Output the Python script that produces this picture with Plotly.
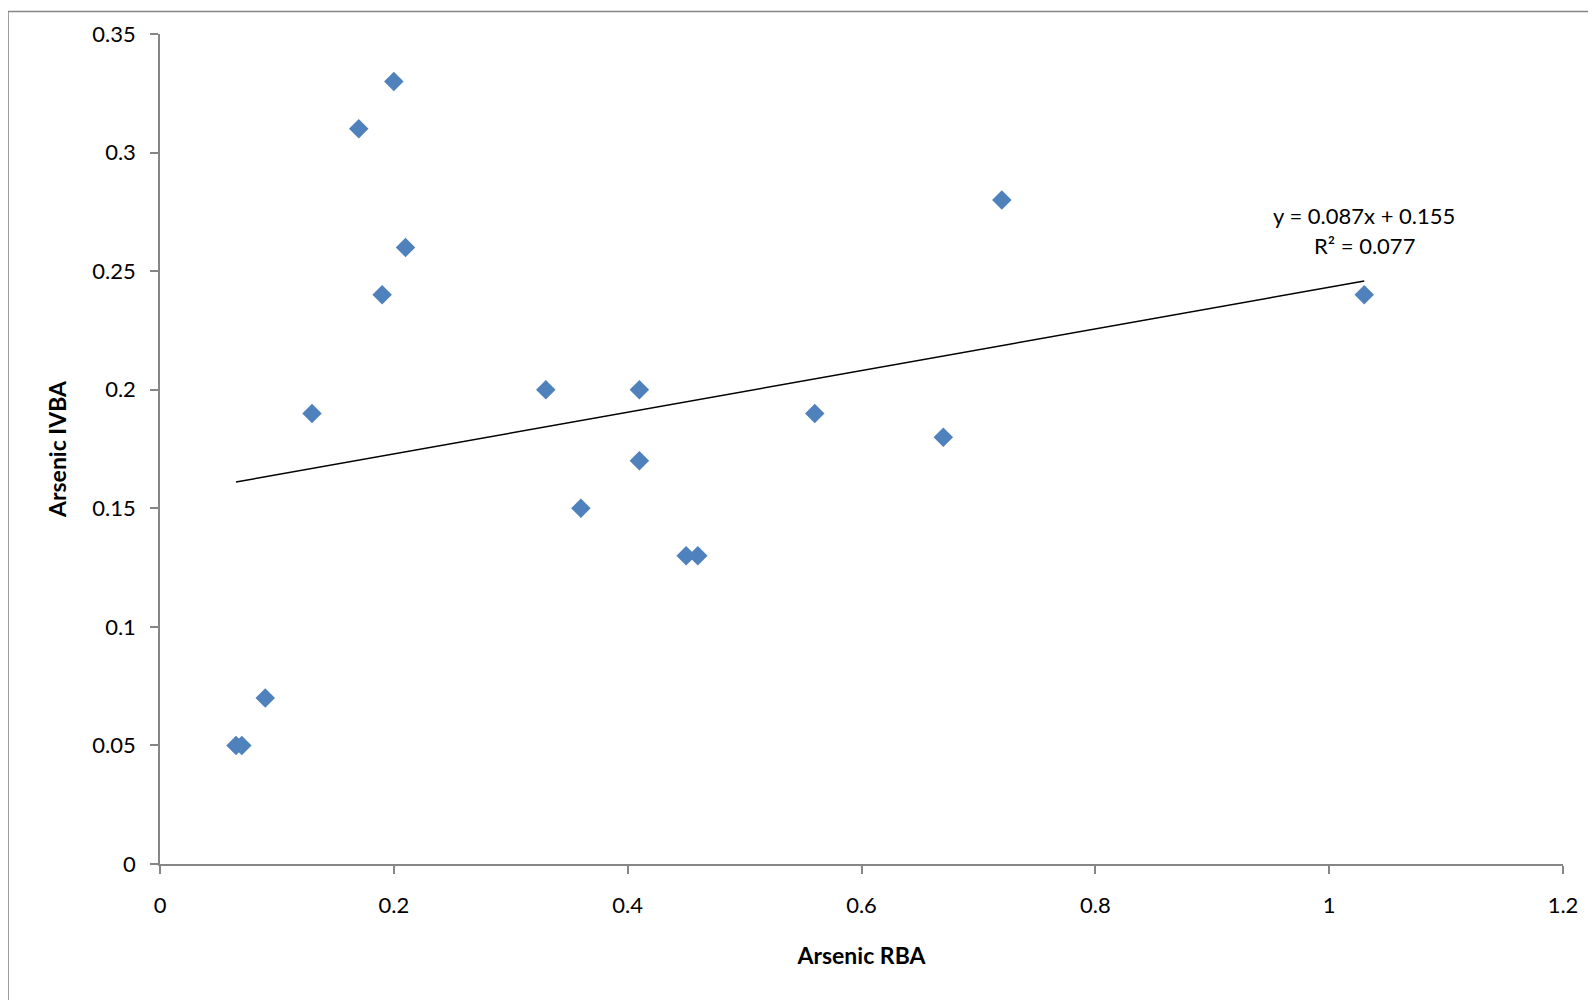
import numpy as np
import plotly.graph_objects as go

# Data
rba = [0.065, 0.07, 0.09, 0.13, 0.17, 0.19, 0.20, 0.21, 0.33, 0.36, 0.41, 0.41, 0.45, 0.46, 0.56, 0.67, 0.72, 1.03]
ivba = [0.05, 0.05, 0.07, 0.19, 0.31, 0.24, 0.33, 0.26, 0.20, 0.15, 0.20, 0.17, 0.13, 0.13, 0.19, 0.18, 0.28, 0.24]
x_ticks = [0, 0.2, 0.4, 0.6, 0.8, 1, 1.2]
y_ticks = [0, 0.05, 0.1, 0.15, 0.2, 0.25, 0.3, 0.35]
trend_label = ["y = 0.087x + 0.155", "R² = 0.077"]

slope, intercept = np.polyfit(rba, ivba, 1)
tx = [min(rba), max(rba)]
ty = [slope * v + intercept for v in tx]

FONT = "Lato, 'Open Sans', sans-serif"
GRAY = "#868686"

fig = go.Figure()
fig.add_trace(go.Scatter(x=tx, y=ty, mode="lines", line=dict(color="black", width=1.5),
                         hoverinfo="skip", showlegend=False))
fig.add_trace(go.Scatter(x=rba, y=ivba, mode="markers",
                         marker=dict(symbol="diamond", size=15, color="#4F81BD"),
                         showlegend=False))

fig.add_annotation(x=max(rba), y=0.2735, xref="x", yref="y",
                   text=trend_label[0], showarrow=False,
                   font=dict(family=FONT, size=22, color="black"))
fig.add_annotation(x=max(rba), y=0.2608, xref="x", yref="y",
                   text=trend_label[1], showarrow=False,
                   font=dict(family=FONT, size=22, color="black"))

# outer chart border (left/top visible)
fig.add_shape(type="rect", xref="paper", yref="paper", x0=-0.1083, x1=1.2, y0=-0.3, y1=1.0272,
              line=dict(color=GRAY, width=1.5), fillcolor="rgba(0,0,0,0)", layer="below")

axis_common = dict(showgrid=False, zeroline=False, showline=True, linecolor=GRAY, linewidth=1.5,
                   ticks="outside", ticklen=8, tickcolor=GRAY, tickwidth=1.5,
                   tickfont=dict(family=FONT, size=22, color="black"))

fig.update_xaxes(range=[0, 1.2], tickvals=x_ticks, ticktext=[f"{v:g}" for v in x_ticks],
                 title=dict(text="<b>Arsenic RBA</b>", font=dict(family=FONT, size=23, color="black"), standoff=31),
                 ticklabelstandoff=13, **axis_common)
fig.update_yaxes(range=[0, 0.35], tickvals=y_ticks, ticktext=[f"{v:g}" for v in y_ticks],
                 title=dict(text="<b>Arsenic IVBA</b>", font=dict(family=FONT, size=23, color="black"), standoff=19),
                 ticklabelstandoff=10, **axis_common)

fig.update_layout(width=1596, height=1000, margin=dict(l=152, r=41, t=24, b=144),
                  plot_bgcolor="white", paper_bgcolor="white")

fig.write_html("out.html")
